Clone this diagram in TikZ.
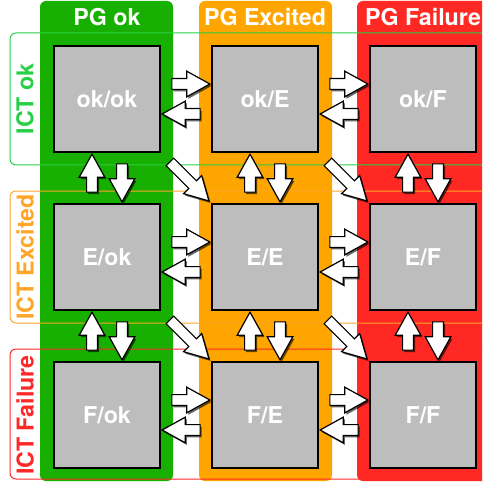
\documentclass[tikz,border=0pt]{standalone}
\usepackage{fontspec}
\setmainfont{TeX Gyre Heros}
\usetikzlibrary{shapes.arrows,shadows,calc}
\definecolor{pggreen}{RGB}{24,176,0}
\definecolor{pgorange}{RGB}{255,165,0}
\definecolor{pgred}{RGB}{255,40,34}
\definecolor{ictgreen}{RGB}{40,208,70}
\definecolor{ictorange}{RGB}{255,165,40}
\definecolor{ictred}{RGB}{255,40,40}
\definecolor{boxgrey}{RGB}{189,189,189}
\begin{document}
\begin{tikzpicture}[x=0.25mm, y=-0.25mm,
  state/.style={draw=black, line width=0.4mm, fill=boxgrey, minimum size=26.5mm, inner sep=0pt, text=white, font=\bfseries\fontsize{16.5}{18}\selectfont},
  column/.style={rounded corners=1.5mm},
  band/.style={rounded corners=1.5mm, line width=0.25mm},
  head/.style={text=white, font=\bfseries\fontsize{16.5}{18}\selectfont},
  side/.style={rotate=90, font=\bfseries\fontsize{16.5}{18}\selectfont},
  fat/.style={single arrow, draw=black, fill=white, line width=0.3mm, inner sep=1.2mm, single arrow head extend=1.85mm, single arrow tip angle=58, minimum height=#1, drop shadow={shadow xshift=0.4mm, shadow yshift=-0.5mm, opacity=0.6, fill=black}},
  block/.style={to path={(\tikztostart) -- (\tikztotarget) node[midway, sloped, allow upside down, fat=#1] {}}},
  block/.default=9.5mm
]
\useasboundingbox (0,0) rectangle (482,485);
\clip (0,0) rectangle (482,485);
% Define the columns
\fill[pggreen, column] (40,1) rectangle (173,481);
\fill[pgorange, column] (199,1) rectangle (332,481);
\fill[pgred, column] (357,1) rectangle (495,481);
\node[head] (pgok) at (107,17) {PG ok};
\node[head] (pgexc) at (265,17) {PG Excited};
\node[head] (pgfail) at (423,17) {PG Failure};
% Define the rows
\draw[ictgreen, band] (10,33) rectangle (500,165);
\draw[ictorange, band] (10,191) rectangle (500,323);
\draw[ictred, band] (10,349) rectangle (500,479);
\node[side, text=ictgreen] (ictok) at (25,99) {ICT ok};
\node[side, text=ictorange] (ictexc) at (25,257) {ICT Excited};
\node[side, text=ictred] (ictfail) at (25,415) {ICT Failure};
% Define the states
\node[state] (oo) at (107,99) {ok/ok};
\node[state] (oe) at (265,99) {ok/E};
\node[state] (of) at (423,99) {ok/F};
\node[state] (eo) at (107,257) {E/ok};
\node[state] (ee) at (265,257) {E/E};
\node[state] (ef) at (423,257) {E/F};
\node[state] (fo) at (107,415) {F/ok};
\node[state] (fe) at (265,415) {F/E};
\node[state] (ff) at (423,415) {F/F};
% Define the horizontal arrows
\path[block] ($(oo.east)+(0,-15)$) to ($(oe.west)+(0,-15)$);
\path[block] ($(oe.west)+(0,15)$) to ($(oo.east)+(0,15)$);
\path[block] ($(oe.east)+(0,-15)$) to ($(of.west)+(0,-15)$);
\path[block] ($(of.west)+(0,15)$) to ($(oe.east)+(0,15)$);
\path[block] ($(eo.east)+(0,-15)$) to ($(ee.west)+(0,-15)$);
\path[block] ($(ee.west)+(0,15)$) to ($(eo.east)+(0,15)$);
\path[block] ($(ee.east)+(0,-15)$) to ($(ef.west)+(0,-15)$);
\path[block] ($(ef.west)+(0,15)$) to ($(ee.east)+(0,15)$);
\path[block] ($(fo.east)+(0,-15)$) to ($(fe.west)+(0,-15)$);
\path[block] ($(fe.west)+(0,15)$) to ($(fo.east)+(0,15)$);
\path[block] ($(fe.east)+(0,-15)$) to ($(ff.west)+(0,-15)$);
\path[block] ($(ff.west)+(0,15)$) to ($(fe.east)+(0,15)$);
% Define the vertical arrows
\path[block] ($(eo.north)+(-15,0)$) to ($(oo.south)+(-15,0)$);
\path[block] ($(oo.south)+(15,0)$) to ($(eo.north)+(15,0)$);
\path[block] ($(ee.north)+(-15,0)$) to ($(oe.south)+(-15,0)$);
\path[block] ($(oe.south)+(15,0)$) to ($(ee.north)+(15,0)$);
\path[block] ($(ef.north)+(-15,0)$) to ($(of.south)+(-15,0)$);
\path[block] ($(of.south)+(15,0)$) to ($(ef.north)+(15,0)$);
\path[block] ($(fo.north)+(-15,0)$) to ($(eo.south)+(-15,0)$);
\path[block] ($(eo.south)+(15,0)$) to ($(fo.north)+(15,0)$);
\path[block] ($(fe.north)+(-15,0)$) to ($(ee.south)+(-15,0)$);
\path[block] ($(ee.south)+(15,0)$) to ($(fe.north)+(15,0)$);
\path[block] ($(ff.north)+(-15,0)$) to ($(ef.south)+(-15,0)$);
\path[block] ($(ef.south)+(15,0)$) to ($(ff.north)+(15,0)$);
% Define the diagonal arrows
\path[block=13.8mm] (oo.south east) to (ee.north west);
\path[block=13.8mm] (oe.south east) to (ef.north west);
\path[block=13.8mm] (eo.south east) to (fe.north west);
\path[block=13.8mm] (ee.south east) to (ff.north west);
\end{tikzpicture}
\end{document}
